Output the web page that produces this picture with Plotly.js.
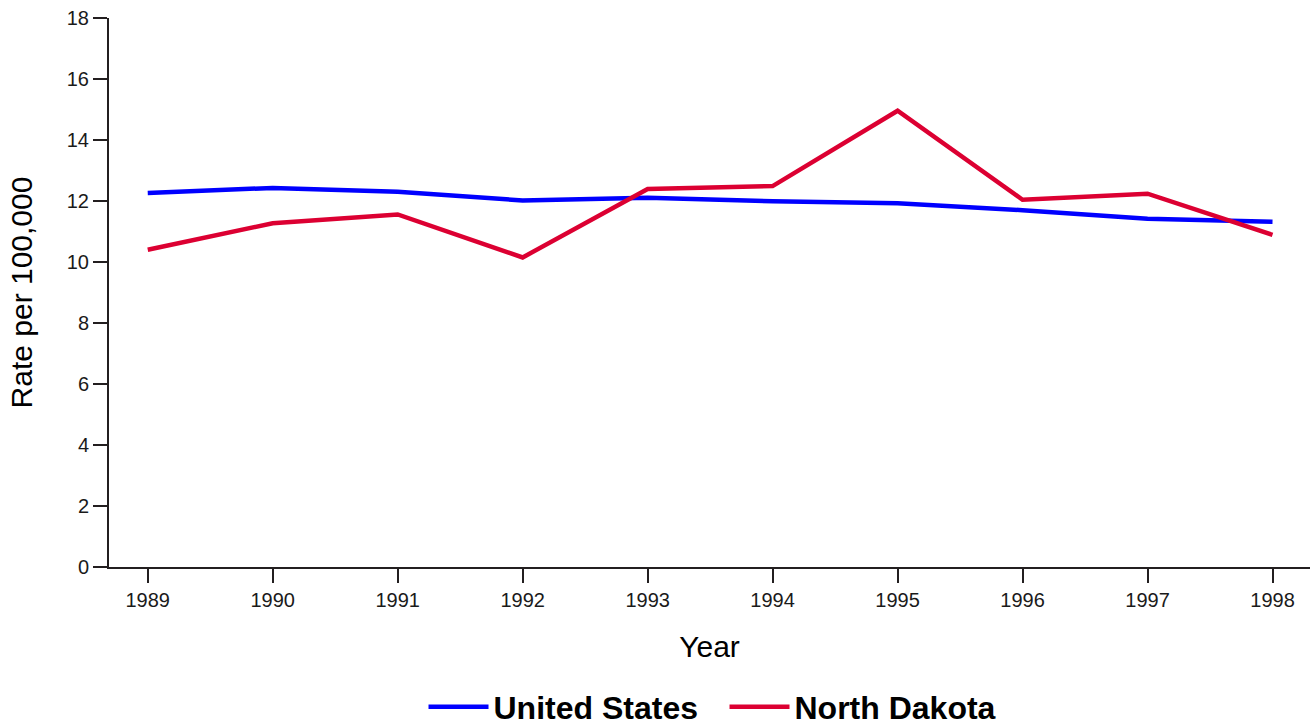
<!DOCTYPE html>
<html>
<head>
<meta charset="utf-8">
<script src="https://cdn.plot.ly/plotly-3.0.1.min.js"></script>
<style>
  html, body { margin: 0; padding: 0; background: #ffffff; }
  #chart { width: 1312px; height: 727px; }
</style>
</head>
<body>
<div id="chart"></div>
<script>
const years = [1989, 1990, 1991, 1992, 1993, 1994, 1995, 1996, 1997, 1998];
const unitedStates = [12.26, 12.43, 12.30, 12.02, 12.11, 11.99, 11.93, 11.70, 11.42, 11.32];
const northDakota = [10.40, 11.27, 11.56, 10.15, 12.39, 12.49, 14.96, 12.04, 12.24, 10.89];
const yTicks = [0, 2, 4, 6, 8, 10, 12, 14, 16, 18];

const FONT = 'Liberation Sans, Arial, Helvetica, sans-serif';
const AXIS_COLOR = '#231f20';

const traces = [
  { x: years, y: unitedStates, name: 'United States', type: 'scatter', mode: 'lines',
    line: { color: '#0000ff', width: 4.5 } },
  { x: years, y: northDakota, name: 'North Dakota', type: 'scatter', mode: 'lines',
    line: { color: '#dc0032', width: 4.5 } }
];

const layout = {
  width: 1312, height: 727,
  margin: { l: 109, r: 2, t: 18, b: 160, autoexpand: false },
  paper_bgcolor: '#ffffff', plot_bgcolor: '#ffffff',
  font: { family: FONT, color: '#000000' },
  showlegend: true,
  legend: {
    orientation: 'h', x: 0.5125, xanchor: 'center', y: -0.205, yanchor: 'top',
    font: { family: FONT, size: 32, color: '#000000', weight: 'bold' },
    itemwidth: 60, entrywidth: 226, bgcolor: 'rgba(0,0,0,0)'
  },
  xaxis: {
    range: [1988.69, 1998.3], tickvals: years, ticktext: years.map(String),
    showline: true, linecolor: AXIS_COLOR, linewidth: 2,
    ticks: 'outside', ticklen: 14, tickwidth: 2, tickcolor: AXIS_COLOR,
    showgrid: false, zeroline: false, automargin: true,
    tickfont: { family: FONT, size: 20, color: '#1a1a1a' },
    title: { text: 'Year', font: { family: FONT, size: 30, color: '#000000' }, standoff: 26 }
  },
  yaxis: {
    range: [0, 18], tickvals: yTicks,
    showline: true, linecolor: AXIS_COLOR, linewidth: 2,
    ticks: 'outside', ticklen: 14, tickwidth: 2, tickcolor: AXIS_COLOR,
    showgrid: false, zeroline: false, automargin: true,
    tickfont: { family: FONT, size: 20, color: '#1a1a1a' },
    title: { text: 'Rate per 100,000', font: { family: FONT, size: 30, color: '#000000' }, standoff: 25 }
  }
};

Plotly.newPlot('chart', traces, layout, { displayModeBar: false, staticPlot: true });
</script>
</body>
</html>
